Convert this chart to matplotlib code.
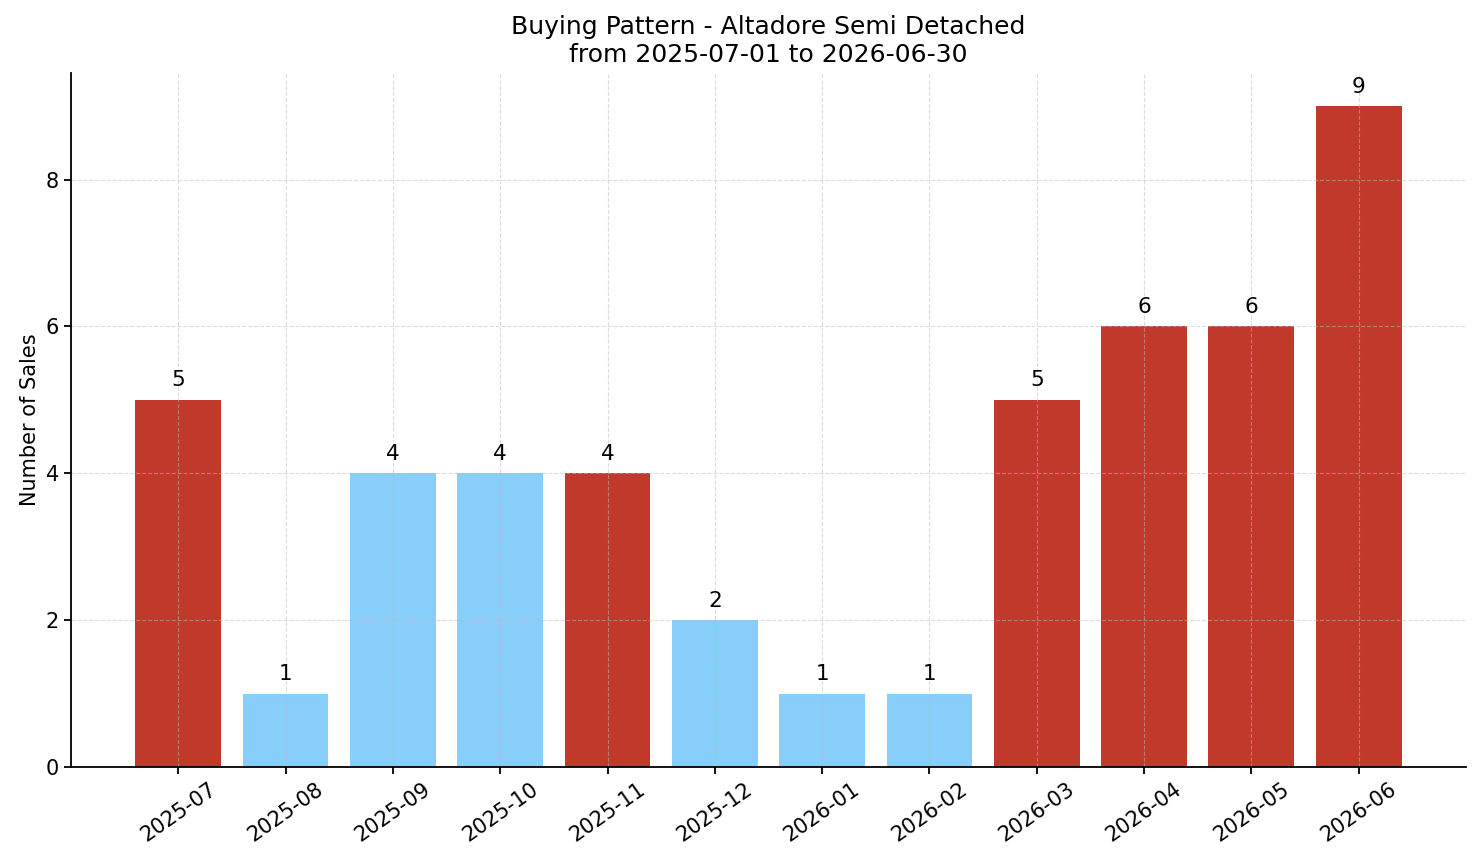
import matplotlib
matplotlib.use("Agg")
import matplotlib.pyplot as plt

# monthly sales counts
months = ["2025-07", "2025-08", "2025-09", "2025-10", "2025-11", "2025-12",
          "2026-01", "2026-02", "2026-03", "2026-04", "2026-05", "2026-06"]
sales = [5, 1, 4, 4, 4, 2, 1, 1, 5, 6, 6, 9]
hot = [True, False, False, False, True, False, False, False, True, True, True, True]

RED = "#c0392b"
BLUE = "#87cefa"
colors = [RED if h else BLUE for h in hot]

fig = plt.figure(figsize=(14.81, 8.63), dpi=100)
ax = fig.add_axes([0.0479, 0.1112, 0.942, 0.804])

x = range(len(months))
bars = ax.bar(x, sales, width=0.8, color=colors)

for xi, v in zip(x, sales):
    ax.text(xi, v + 0.13, str(v), ha="center", va="bottom", fontsize=15.5)

ax.set_xticks(list(x))
ax.set_xticklabels(months, rotation=35, fontsize=15)
ax.tick_params(axis="y", labelsize=15)
ax.tick_params(length=5, width=1.3)
ax.set_xlim(-1, 12)
ax.set_ylim(0, 9.45)
ax.set_ylabel("Number of Sales", fontsize=15)
ax.set_title("Buying Pattern - Altadore Semi Detached\nfrom 2025-07-01 to 2026-06-30", fontsize=18, pad=8)

ax.grid(True, linestyle="--", color="#bbbbbb", alpha=0.5, linewidth=0.8)
ax.spines["top"].set_visible(False)
ax.spines["right"].set_visible(False)
ax.spines["left"].set_linewidth(1.3)
ax.spines["bottom"].set_linewidth(1.3)

fig.savefig("out.png", dpi=100)
